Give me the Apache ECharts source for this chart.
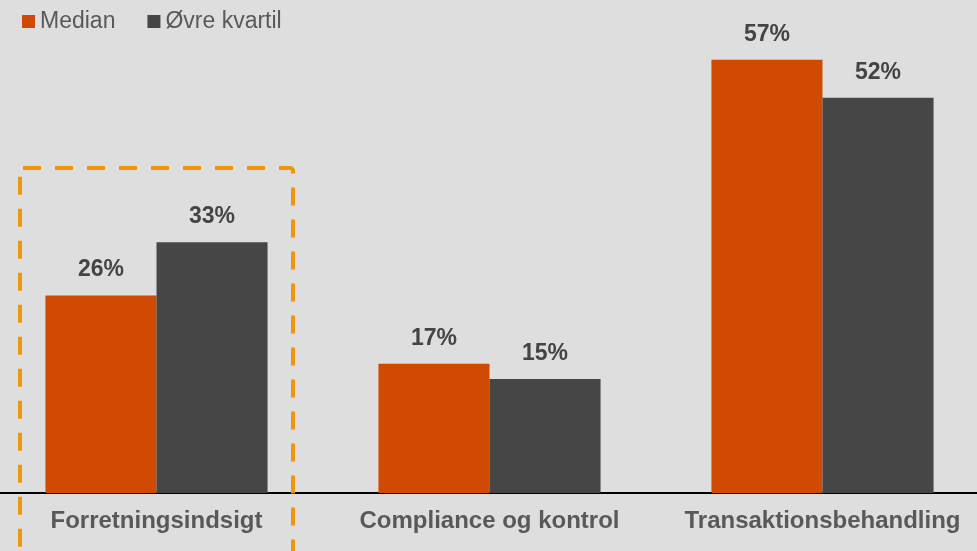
<!DOCTYPE html>
<html>
<head>
<meta charset="utf-8">
<script src="https://cdn.jsdelivr.net/npm/echarts@6/dist/echarts.min.js"></script>
<style>
  html, body { margin: 0; padding: 0; background: #dedede; }
  #chart { width: 977px; height: 551px; }
</style>
</head>
<body>
<div id="chart"></div>
<script>
const categories = ['Forretningsindsigt', 'Compliance og kontrol', 'Transaktionsbehandling']
const seriesNames = ['Median', 'Øvre kvartil']
const medianValues = [26, 17, 57]
const upperQuartileValues = [33, 15, 52]

const chart = echarts.init(document.getElementById('chart'))

const labelStyle = {
  show: true,
  position: 'top',
  distance: 14,
  formatter: '{c}%',
  color: '#444444',
  fontSize: 23,
  fontWeight: 'bold',
  fontFamily: 'Liberation Sans, Arial, sans-serif'
}

const option = {
  backgroundColor: '#dedede',
  animation: false,
  legend: {
    data: seriesNames,
    left: 17,
    top: 5,
    icon: 'rect',
    itemWidth: 13,
    itemHeight: 13,
    itemGap: 32,
    textStyle: {
      color: '#595959',
      fontSize: 23,
      fontFamily: 'Liberation Sans, Arial, sans-serif'
    }
  },
  grid: {
    left: -10,
    right: -12,
    top: 37,
    bottom: 58,
    containLabel: false,
    outerBoundsMode: 'none'
  },
  xAxis: {
    type: 'category',
    data: categories,
    axisLine: {
      lineStyle: { color: '#000000', width: 2 }
    },
    axisTick: { show: false },
    axisLabel: {
      interval: 0,
      hideOverlap: false,
      color: '#595959',
      fontSize: 24,
      fontWeight: 'bold',
      margin: 16,
      fontFamily: 'Liberation Sans, Arial, sans-serif'
    }
  },
  yAxis: {
    type: 'value',
    min: 0,
    max: 60,
    show: false,
    splitLine: { show: false }
  },
  series: [
    {
      name: seriesNames[0],
      type: 'bar',
      data: medianValues,
      barGap: '0%',
      barCategoryGap: '33.3%',
      itemStyle: { color: '#d04a02' },
      label: labelStyle
    },
    {
      name: seriesNames[1],
      type: 'bar',
      data: upperQuartileValues,
      itemStyle: { color: '#464646' },
      label: labelStyle
    }
  ],
  graphic: [
    {
      type: 'rect',
      shape: { x: 20, y: 168, width: 273, height: 400, r: 3 },
      style: {
        fill: 'none',
        stroke: '#f0960a',
        lineWidth: 4,
        lineDash: [18, 14]
      },
      z: 10
    }
  ]
}

chart.setOption(option)
</script>
</body>
</html>
